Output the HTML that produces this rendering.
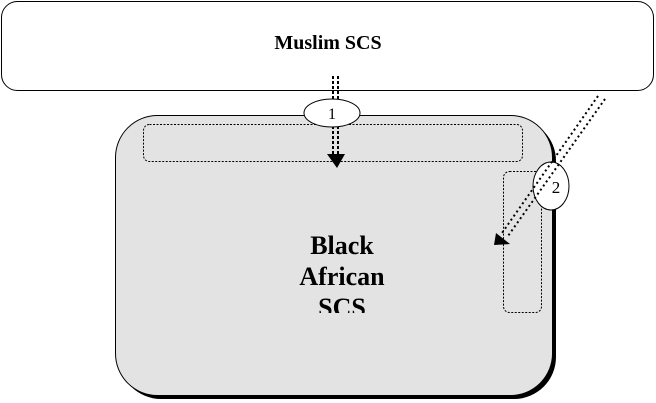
<!DOCTYPE html>
<html><head><meta charset="utf-8"><style>
html,body{margin:0;padding:0;background:#fff;}
svg{display:block;}
text{font-family:"Liberation Serif",serif;font-weight:bold;fill:#000;}
</style></head><body>
<svg width="656" height="403" viewBox="0 0 656 403" xmlns="http://www.w3.org/2000/svg">
<defs>
<clipPath id="c"><rect x="0" y="0" width="656" height="313"/></clipPath>
</defs>
<rect x="1.5" y="1.5" width="652" height="89" rx="16" fill="#fff" stroke="#000" stroke-width="1"/>
<text x="328" y="49" font-size="20" text-anchor="middle">Muslim SCS</text>
<rect x="119" y="119" width="437" height="280" rx="42" fill="#000"/>
<rect x="115.5" y="115.5" width="437" height="280" rx="42" fill="#e3e3e3" stroke="#000" stroke-width="1"/>
<rect x="143.5" y="124.5" width="379" height="37" rx="6" fill="none" stroke="#000" stroke-width="1" stroke-dasharray="2,1.5"/>
<rect x="503.5" y="171.5" width="38" height="141" rx="6" fill="none" stroke="#000" stroke-width="1" stroke-dasharray="2,1.5"/>
<g clip-path="url(#c)">
<text x="342" y="254" font-size="26" text-anchor="middle">Black</text>
<text x="342" y="285" font-size="26" text-anchor="middle">African</text>
<text x="342" y="316" font-size="26" text-anchor="middle">SCS</text>
</g>
<line x1="333" y1="76" x2="333" y2="156" stroke="#000" stroke-width="2" stroke-dasharray="3,2"/>
<line x1="338" y1="76" x2="338" y2="156" stroke="#000" stroke-width="2" stroke-dasharray="3,2"/>
<path d="M327,154 L345,154 L337,168 z" fill="#000"/>
<ellipse cx="332" cy="113" rx="28" ry="14" fill="#fff" stroke="#000"/>
<text x="332" y="119" font-size="16" text-anchor="middle" style="font-weight:normal">1</text>
<path d="M496,233 L510,244 L494,245 z" fill="#000"/>
<ellipse cx="551" cy="186" rx="18" ry="24" fill="#fff" stroke="#000"/>
<line x1="598" y1="96" x2="502" y2="233" stroke="#000" stroke-width="2" stroke-dasharray="2,3"/>
<line x1="605" y1="99" x2="508" y2="236" stroke="#000" stroke-width="2" stroke-dasharray="2,3"/>
<text x="556" y="193" font-size="17" text-anchor="middle" style="font-weight:normal">2</text>
</svg>
</body></html>
